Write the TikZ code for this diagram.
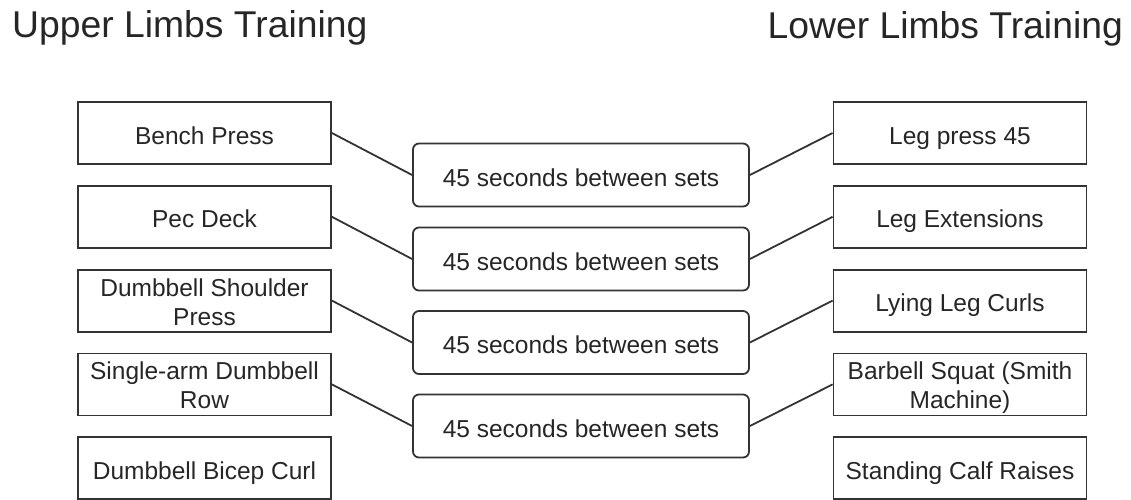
\documentclass[tikz,border=0pt]{standalone}
\usepackage{fontspec}
\setmainfont{Liberation Sans}
\newcommand{\twolines}[2]{\begin{tabular}[t]{@{}c@{}}#1\\#2\end{tabular}}
\begin{document}
\begin{tikzpicture}[x=1pt,y=-1pt,
  every node/.style={text=black!85},
  boxfont/.style={font=\fontsize{24.5}{29}\selectfont},
  exbox/.style={draw=black!80,line width=1.8pt,minimum width=253pt,minimum height=62pt,inner sep=0pt,boxfont,text height=22pt,text depth=0pt},
  exbox2/.style={exbox,text height=0pt,text depth=9.2pt},
  restbox/.style={draw=black!80,line width=1.8pt,rounded corners=6pt,minimum width=336pt,minimum height=63pt,inner sep=0pt,boxfont,text height=22pt,text depth=0pt},
  link/.style={draw=black!80,line width=1.8pt},
  title/.style={font=\fontsize{37.3}{44}\selectfont,inner sep=0pt}]
\clip (0,0) rectangle (1131,499);
\useasboundingbox (0,0) rectangle (1131,499);
\node[title,anchor=base west] (tl) at (12,37) {Upper Limbs Training};
\node[title,anchor=base east] (tr) at (1123,38) {Lower Limbs Training};
\node[exbox] (u1) at (204.5,133) {Bench Press};
\node[exbox] (u2) at (204.5,216.8) {Pec Deck};
\node[exbox2] (u3) at (204.5,300.6) {\twolines{Dumbbell Shoulder}{Press}};
\node[exbox2] (u4) at (204.5,384.4) {\twolines{Single-arm Dumbbell}{Row}};
\node[exbox] (u5) at (204.5,468.2) {Dumbbell Bicep Curl};
\node[exbox] (l1) at (960,133) {Leg press 45};
\node[exbox] (l2) at (960,216.8) {Leg Extensions};
\node[exbox] (l3) at (960,300.6) {Lying Leg Curls};
\node[exbox2] (l4) at (960,384.4) {\twolines{Barbell Squat (Smith}{Machine)}};
\node[exbox] (l5) at (960,468.2) {Standing Calf Raises};
\node[restbox] (r1) at (581,175) {45 seconds between sets};
\node[restbox] (r2) at (581,259) {45 seconds between sets};
\node[restbox] (r3) at (581,342.5) {45 seconds between sets};
\node[restbox] (r4) at (581,426) {45 seconds between sets};
\foreach \i in {1,2,3,4}{
  \draw[link] (u\i.east) -- (r\i.west);
  \draw[link] (r\i.east) -- (l\i.west);
}
\end{tikzpicture}
\end{document}
